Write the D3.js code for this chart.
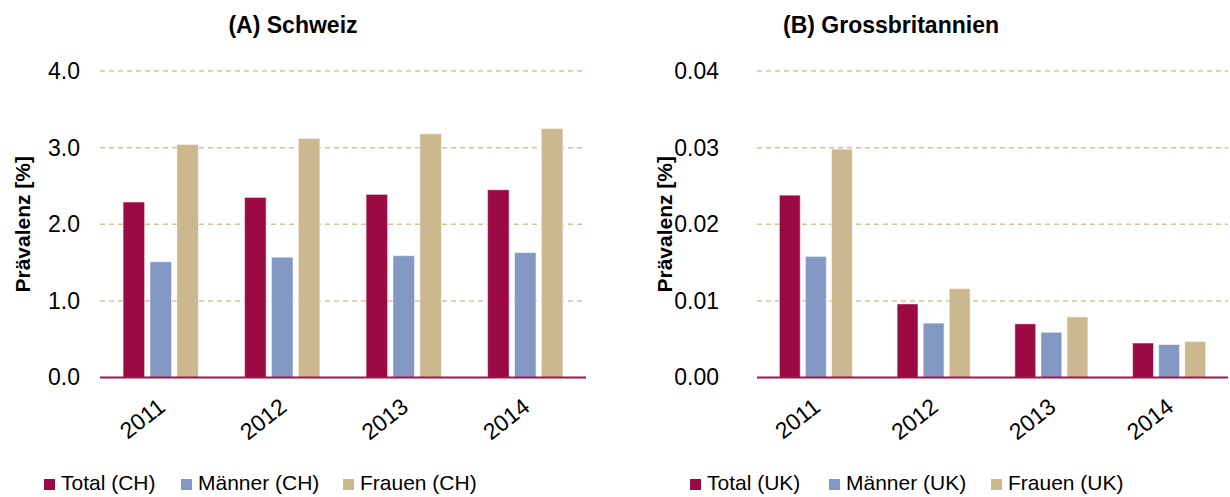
<!DOCTYPE html>
<html>
<head>
<meta charset="utf-8">
<script src="https://cdn.jsdelivr.net/npm/d3@7"></script>
<style>
  html, body { margin: 0; padding: 0; background: #fff; }
  svg { display: block; font-family: "Liberation Sans", Arial, sans-serif; }
</style>
</head>
<body>
<svg id="chart" width="1230" height="497"></svg>
<script>
// ---- data ----
const years = ["2011", "2012", "2013", "2014"];
const seriesCH = ["Total (CH)", "Männer (CH)", "Frauen (CH)"];
const seriesUK = ["Total (UK)", "Männer (UK)", "Frauen (UK)"];
const totalCH  = [2.29, 2.35, 2.39, 2.45];
const maennerCH = [1.51, 1.57, 1.59, 1.63];
const frauenCH = [3.04, 3.12, 3.18, 3.25];
const totalUK  = [0.0238, 0.0096, 0.0070, 0.0045];
const maennerUK = [0.0158, 0.0071, 0.0059, 0.0043];
const frauenUK = [0.0298, 0.0116, 0.0079, 0.0047];
const ticksCH = [0, 1, 2, 3, 4];
const ticksUK = [0, 0.01, 0.02, 0.03, 0.04];
const titleCH = "(A) Schweiz";
const titleUK = "(B) Grossbritannien";
const yTitle = "Prävalenz [%]";

const colors = ["#9b0a43", "#8398c4", "#cbb88f"];
const svg = d3.select("#chart");

function panel(cfg) {
  const { left, right, top, bottom, series, values, ticks, fmt, title, titleX,
          tickGap, yTitleX, legendX } = cfg;
  const w = right - left, h = bottom - top;
  const g = svg.append("g").attr("transform", `translate(${left},${top})`);
  const y = d3.scaleLinear().domain([0, ticks[ticks.length - 1]]).range([h, 0]);
  const x0 = d3.scaleBand().domain(years).range([0, w]).paddingInner(0.38).paddingOuter(0.19);
  const x1 = d3.scaleBand().domain(series).range([0, x0.bandwidth()]).paddingInner(0.2);

  // gridlines
  g.selectAll("line.grid").data(ticks.filter(t => t > 0)).enter().append("line")
    .attr("x1", 0).attr("x2", w)
    .attr("y1", d => y(d)).attr("y2", d => y(d))
    .attr("stroke", "#d3c29e").attr("stroke-width", 1.5)
    .attr("stroke-dasharray", "5,4");

  // y tick labels via axis
  const yAxis = d3.axisLeft(y).tickValues(ticks).tickFormat(fmt).tickSize(0).tickPadding(tickGap);
  const ya = g.append("g").call(yAxis);
  ya.select(".domain").remove();
  ya.selectAll("text").attr("font-size", 23).attr("fill", "#000")
    .attr("font-family", "Liberation Sans, Arial, sans-serif");

  // bars
  const rows = years.map((yr, i) => series.map((s, j) => ({ yr, s, v: values[j][i], j })));
  const grp = g.selectAll("g.year").data(rows).enter().append("g")
    .attr("transform", d => `translate(${x0(d[0].yr)},0)`);
  grp.selectAll("rect").data(d => d).enter().append("rect")
    .attr("x", d => x1(d.s)).attr("width", x1.bandwidth())
    .attr("y", d => y(d.v)).attr("height", d => h - y(d.v))
    .attr("fill", d => colors[d.j])
    .attr("stroke", "rgba(255,255,255,0.5)").attr("stroke-width", 1);

  // baseline
  g.append("line").attr("x1", 0).attr("x2", w).attr("y1", h).attr("y2", h)
    .attr("stroke", "#a3144c").attr("stroke-width", 2);

  // x tick labels
  const xAxis = d3.axisBottom(x0).tickSize(0).tickPadding(0);
  const xa = g.append("g").attr("transform", `translate(0,${h})`).call(xAxis);
  xa.select(".domain").remove();
  xa.selectAll("text")
    .attr("font-size", 23).attr("fill", "#000")
    .attr("font-family", "Liberation Sans, Arial, sans-serif")
    .attr("text-anchor", "end").attr("dy", 0).attr("y", 0)
    .attr("transform", "translate(6,32) rotate(-38)");

  // title
  svg.append("text").attr("x", titleX).attr("y", 33).attr("text-anchor", "middle")
    .attr("font-size", 23).attr("font-weight", "bold").text(title);

  // y title
  svg.append("text").attr("transform", `translate(${yTitleX},${top + h / 2}) rotate(-90)`)
    .attr("text-anchor", "middle").attr("font-size", 21).attr("font-weight", "bold")
    .text(yTitle);

  // legend
  const lg = svg.append("g");
  series.forEach((s, j) => {
    lg.append("rect").attr("x", legendX[j]).attr("y", 479).attr("width", 11).attr("height", 11)
      .attr("fill", colors[j]);
    lg.append("text").attr("x", legendX[j] + 17).attr("y", 490).attr("font-size", 21)
      .attr("fill", "#000").text(s);
  });
}

panel({
  left: 100, right: 586, top: 71, bottom: 377.5,
  series: seriesCH, values: [totalCH, maennerCH, frauenCH], ticks: ticksCH,
  fmt: d3.format(".1f"), title: titleCH, titleX: 293, tickGap: 20, yTitleX: 30,
  legendX: [44, 181, 343]
});
panel({
  left: 757, right: 1228, top: 71, bottom: 377.5,
  series: seriesUK, values: [totalUK, maennerUK, frauenUK], ticks: ticksUK,
  fmt: d3.format(".2f"), title: titleUK, titleX: 891, tickGap: 38, yTitleX: 672,
  legendX: [690, 829, 991]
});
</script>
</body>
</html>
